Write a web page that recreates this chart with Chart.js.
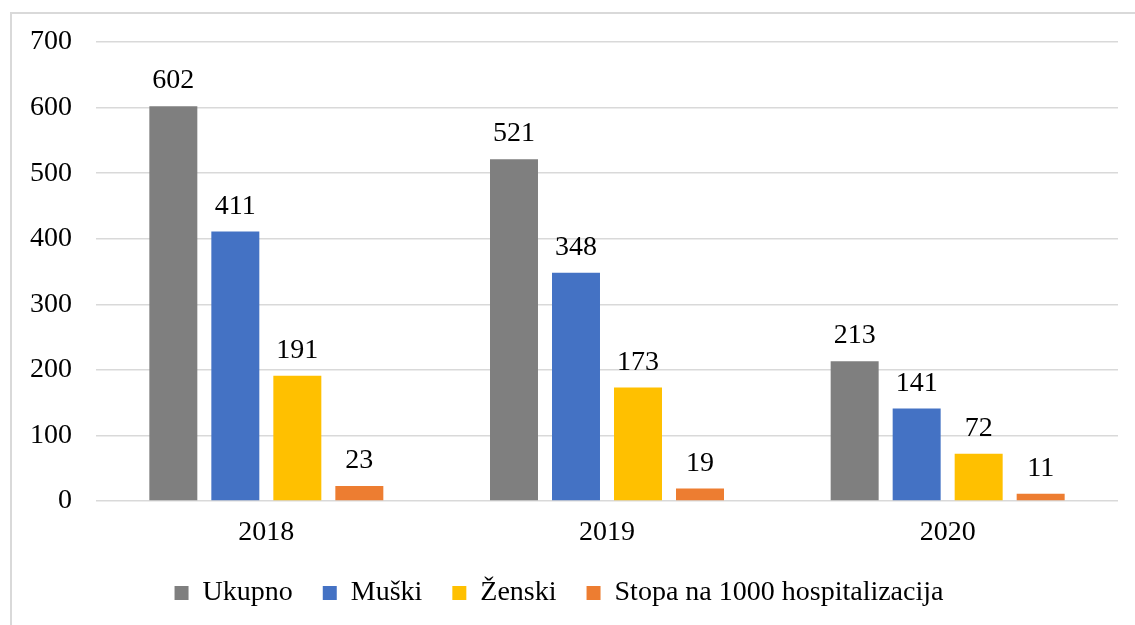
<!DOCTYPE html>
<html>
<head>
<meta charset="utf-8">
<script src="https://cdn.jsdelivr.net/npm/chart.js@4"></script>
<style>
  html, body { margin: 0; padding: 0; background: #fff; overflow: hidden; }
  #wrap { position: relative; width: 1135px; height: 625px; }
  #okvir { position: absolute; left: 10px; top: 12px; width: 1200px; height: 700px; border: 2px solid #d9d9d9; box-sizing: border-box; }
  canvas { position: absolute; left: 0; top: 0; }
</style>
</head>
<body>
<div id="wrap">
  <div id="okvir"></div>
  <canvas id="hospChart" width="1135" height="625"></canvas>
</div>
<script>
// Podaci sa grafikona
const godine = ['2018', '2019', '2020'];
const ukupno = [602, 521, 213];
const muski = [411, 348, 141];
const zenski = [191, 173, 72];
const stopa = [23, 19, 11];
const yTicks = [0, 100, 200, 300, 400, 500, 600, 700];

const font = 'Liberation Serif, Times New Roman, serif';

// Vrijednosti iznad stubaca
const oznakePlugin = {
    id: 'oznake',
    afterDatasetsDraw(chart) {
        const ctx = chart.ctx;
        ctx.save();
        ctx.font = '28px ' + font;
        ctx.fillStyle = '#000';
        ctx.textAlign = 'center';
        ctx.textBaseline = 'alphabetic';
        chart.data.datasets.forEach((ds, i) => {
            chart.getDatasetMeta(i).data.forEach((bar, j) => {
                ctx.fillText(String(ds.data[j]), bar.x, bar.y - 18);
            });
        });
        ctx.restore();
    }
};

const ctx = document.getElementById('hospChart').getContext('2d');

const hospChart = new Chart(ctx, {
    type: 'bar',
    data: {
        labels: godine,
        datasets: [
            { label: 'Ukupno', data: ukupno, backgroundColor: '#7f7f7f' },
            { label: 'Muški', data: muski, backgroundColor: '#4472c4' },
            { label: 'Ženski', data: zenski, backgroundColor: '#ffc000' },
            { label: 'Stopa na 1000 hospitalizacija', data: stopa, backgroundColor: '#ed7d31' }
        ]
    },
    options: {
        responsive: false,
        devicePixelRatio: 1,
        animation: false,
        datasets: {
            bar: { barPercentage: 0.774, categoryPercentage: 0.728 }
        },
        layout: { padding: { left: 0, top: 42, right: 17, bottom: 8 } },
        scales: {
            x: {
                grid: { display: false, drawTicks: false },
                border: { display: false },
                ticks: { color: '#000', font: { family: font, size: 28 }, padding: 15 },
                afterFit(s) { s.height = 48; }
            },
            y: {
                min: 0,
                max: 700,
                afterBuildTicks(s) { s.ticks = yTicks.map(v => ({ value: v })); },
                grid: { color: '#d9d9d9', lineWidth: 1.5, drawTicks: false },
                border: { display: false },
                ticks: { color: '#000', font: { family: font, size: 28 }, padding: 24 },
                afterFit(s) { s.width = 96; }
            }
        },
        plugins: {
            legend: {
                position: 'bottom',
                labels: {
                    color: '#000',
                    font: { family: font, size: 28 },
                    boxWidth: 14,
                    boxHeight: 14,
                    padding: 30
                }
            },
            tooltip: { enabled: false }
        }
    },
    plugins: [oznakePlugin]
});
</script>
</body>
</html>
